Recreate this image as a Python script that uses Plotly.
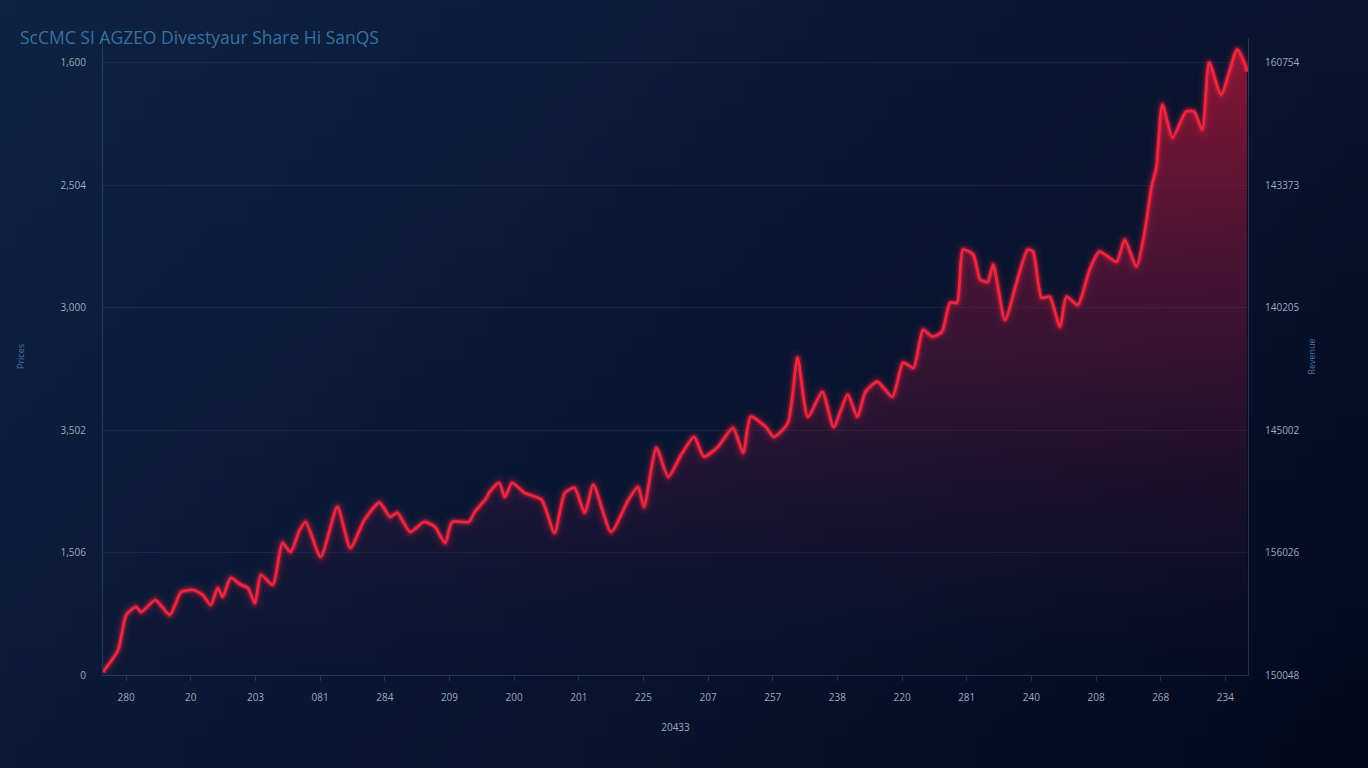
import base64
import struct
import zlib

import plotly.graph_objects as go

# ---------------- data ----------------
months = [-4.3, -1.5, 0.0, 1.8, 2.8, 5.4, 8.1, 10.2, 12.4, 14.2, 15.7, 17.0, 17.9, 19.4,
          21.3, 22.6, 23.9, 25.0, 27.2, 29.0, 30.5, 32.2, 33.3, 36.1, 39.2, 41.6, 44.2,
          47.0, 49.0, 50.3, 52.7, 55.3, 57.3, 59.2, 60.5, 63.6, 64.7, 66.6, 67.5, 69.2,
          70.3, 71.6, 74.0, 77.1, 79.5, 81.4, 83.2, 85.1, 86.7, 90.0, 93.2, 95.0, 96.1,
          98.4, 100.6, 103.0, 105.4, 107.2, 109.8, 112.6, 114.5, 115.9, 118.7, 120.2,
          122.8, 124.6, 126.5, 129.2, 131.3, 133.9, 135.7, 137.2, 139.4, 142.2, 144.2,
          146.1, 147.9, 149.6, 151.4, 152.9, 154.2, 155.3, 157.2, 158.5, 159.9, 160.9,
          163.1, 165.4, 167.3, 168.3, 169.9, 171.4, 173.3, 174.5, 176.6, 178.8, 180.6,
          183.8, 185.3, 187.5, 189.0, 190.3, 191.2, 192.3, 194.2, 196.7, 198.2, 199.7,
          201.0, 203.2, 206.2, 207.8, 208.0]
prices = [12, 102, 245, 278, 257, 306, 245, 339, 347, 327, 286, 355, 319, 396,
          368, 355, 294, 408, 368, 539, 502, 592, 625, 482, 686, 519, 633,
          703, 645, 662, 584, 625, 605, 539, 625, 625, 666, 715, 748, 784,
          727, 784, 743, 715, 580, 743, 764, 662, 776, 584, 715, 768, 686,
          927, 809, 899, 972, 891, 931, 1009, 907, 1054, 1013, 972,
          1029, 1295, 1054, 1156, 1013, 1144, 1054, 1156, 1197, 1136, 1275,
          1254, 1409, 1381, 1401, 1520, 1520, 1736, 1716, 1614, 1605, 1675,
          1450, 1614, 1736, 1728, 1540, 1544, 1422, 1544, 1511, 1654, 1728,
          1687, 1777, 1667, 1806, 1993, 2075, 2328, 2194, 2300, 2300, 2226,
          2500, 2369, 2553, 2484, 2463]

x_tick_vals = [0, 12, 24, 36, 48, 60, 72, 84, 96, 108, 120, 132, 144, 156, 168, 180, 192, 204]
x_tick_text = ["280", "20", "203", "081", "284", "209", "200", "201", "225",
               "207", "257", "238", "220", "281", "240", "208", "268", "234"]
y_tick_vals = [0, 500, 1000, 1500, 2000, 2500]
y_left_text = ["0", "1,506", "3,502", "3,000", "2,504", "1,600"]
y_right_text = ["150048", "156026", "145002", "140205", "143373", "160754"]

title_text = "ScCMC SI AGZEO Divestyaur Share Hi SanQS"
x_title = "20433"
y_left_title = "Prices"
y_right_title = "Revenue"

# ---------------- background gradient image (pure python PNG) ----------------
def make_png(w, h, func):
    raw = b""
    for j in range(h):
        row = bytearray([0])
        for i in range(w):
            row.extend(func(i / (w - 1), j / (h - 1)))
        raw += bytes(row)

    def chunk(tag, data):
        c = struct.pack(">I", len(data)) + tag + data
        return c + struct.pack(">I", zlib.crc32(tag + data) & 0xFFFFFFFF)

    png = b"\x89PNG\r\n\x1a\n"
    png += chunk(b"IHDR", struct.pack(">IIBBBBB", w, h, 8, 2, 0, 0, 0))
    png += chunk(b"IDAT", zlib.compress(raw, 9))
    png += chunk(b"IEND", b"")
    return png


light = (14, 34, 66)
dark = (4, 9, 31)


def grad(u, v):
    t = 0.62 * u + 0.38 * v
    t = max(0.0, min(1.0, t))
    t = t ** 1.2
    return [int(light[k] + (dark[k] - light[k]) * t) for k in range(3)]


bg_uri = "data:image/png;base64," + base64.b64encode(make_png(64, 36, grad)).decode()

W, H = 1368, 768
ML, MR, MT, MB = 103, 120, 38, 93
PW, PH = W - ML - MR, H - MT - MB

fig = go.Figure()

# filled area with vertical gradient
fig.add_trace(go.Scatter(
    x=months, y=prices, mode="lines", fill="tozeroy",
    line=dict(width=0, shape="spline", smoothing=0.6, color="rgba(0,0,0,0)"),
    fillgradient=dict(type="vertical",
                      colorscale=[[0, "rgba(45,15,60,0.02)"],
                                  [0.45, "rgba(115,20,58,0.35)"],
                                  [1, "rgba(185,22,55,0.72)"]]),
    hoverinfo="skip", showlegend=False))

# glow layers
for wdt, op in [(16, 0.06), (9, 0.15), (5.5, 0.32)]:
    fig.add_trace(go.Scatter(
        x=months, y=prices, mode="lines",
        line=dict(width=wdt, color=f"rgba(235,30,60,{op})", shape="spline", smoothing=0.6),
        hoverinfo="skip", showlegend=False))

# core line
fig.add_trace(go.Scatter(
    x=months, y=prices, mode="lines",
    line=dict(width=2.8, color="#ec2742", shape="spline", smoothing=0.6),
    showlegend=False, name="Price"))

# invisible trace for right axis
fig.add_trace(go.Scatter(
    x=[months[0]], y=[prices[0]], yaxis="y2", mode="markers",
    marker=dict(opacity=0), hoverinfo="skip", showlegend=False))

FONT = "Open Sans, DejaVu Sans, sans-serif"
tick_font = dict(family=FONT, size=10, color="rgba(185,198,220,0.85)")
axis_line = "rgba(110,140,185,0.28)"
grid = "rgba(110,140,185,0.13)"

fig.update_layout(
    width=W, height=H,
    margin=dict(l=ML, r=MR, t=MT, b=MB),
    paper_bgcolor="#07102a",
    plot_bgcolor="rgba(0,0,0,0)",
    images=[dict(source=bg_uri, xref="paper", yref="paper",
                 x=-ML / PW, y=1 + MT / PH, sizex=W / PW, sizey=H / PH,
                 xanchor="left", yanchor="top", sizing="stretch", layer="below")],
    title=dict(text=title_text, x=20 / W, xanchor="left", y=1 - 38 / H, yanchor="middle",
               font=dict(family=FONT, size=17.5, color="#3a70a0")),
    xaxis=dict(range=[months[0], months[-1] + 0.2], tickvals=x_tick_vals, ticktext=x_tick_text,
               tickfont=tick_font, showgrid=False, zeroline=False,
               showline=True, linecolor=axis_line, linewidth=1,
               ticks="outside", ticklen=5, tickcolor=axis_line, ticklabelstandoff=8,
               title=dict(text=x_title, standoff=20,
                          font=dict(family=FONT, size=10, color="rgba(185,198,220,0.85)"))),
    yaxis=dict(range=[0, 2600], tickvals=y_tick_vals, ticktext=y_left_text,
               tickfont=tick_font, showgrid=True, gridcolor=grid, gridwidth=1,
               zeroline=False, showline=True, linecolor=axis_line, linewidth=1,
               ticks="", ticklabelstandoff=14,
               title=dict(text=y_left_title, standoff=34,
                          font=dict(family=FONT, size=9, color="rgba(90,140,190,0.8)"))),
    yaxis2=dict(range=[0, 2600], tickvals=y_tick_vals, ticktext=y_right_text,
                overlaying="y", side="right", tickfont=tick_font, showgrid=False,
                zeroline=False, showline=True, linecolor=axis_line, linewidth=1,
                ticks="", ticklabelstandoff=14,
                title=dict(text=y_right_title, standoff=10,
                           font=dict(family=FONT, size=9, color="rgba(90,140,190,0.8)"))),
)

fig.write_html(
    "out.html",
    config={"displayModeBar": False},
    post_script="document.body.style.margin='0';document.body.style.padding='0';"
                "document.body.style.overflow='hidden';"
                "document.body.style.background='#07102a';",
)
